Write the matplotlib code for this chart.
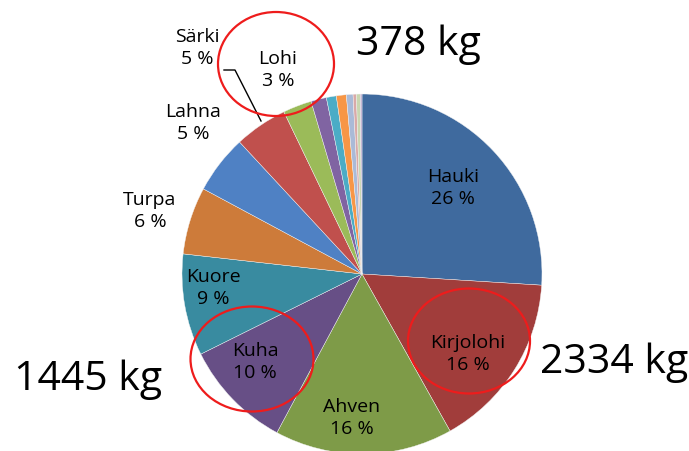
import matplotlib.pyplot as plt
from matplotlib.patches import Ellipse

# catch shares (%), clockwise from 12 o'clock
species = ["Hauki", "Kirjolohi", "Ahven", "Kuha", "Kuore", "Turpa", "Lahna", "Särki", "Lohi",
           "", "", "", "", "", "", ""]
shares = [26.2, 16.0, 16.1, 9.9, 9.2, 6.1, 5.3, 4.8, 2.6, 1.4, 0.9, 0.9, 0.6, 0.3, 0.35, 0.15]
pct_labels = ["26 %", "16 %", "16 %", "10 %", "9 %", "6 %", "5 %", "5 %", "3 %"]
colors = ["#3f6a9e", "#a13d3b", "#7e9b48", "#674f86", "#398ba0", "#cd7b3a",
          "#4f81c4", "#c0504d", "#9bbb59", "#8064a2", "#4bacc6", "#f79646",
          "#aabad7", "#d9a9a8", "#c9d6b0", "#b9a8cc"]

kg_notes = ["378 kg", "2334 kg", "1445 kg"]

W, H = 689, 452
fig = plt.figure(figsize=(W / 100, H / 100), dpi=100)
ax = fig.add_axes([0, 0, 1, 1])

cx, cy, r = 362, H - 275, 180
ax.pie(shares, colors=colors, startangle=90, counterclock=False,
       center=(cx, cy), radius=r, frame=True,
       wedgeprops=dict(linewidth=0.3, edgecolor="#f4f4f4"))
ax.set_xlim(0, W)
ax.set_ylim(0, H)
ax.set_aspect("equal")
ax.axis("off")

font = "Open Sans"
# label positions in pixel coords (x, y from top)
label_pos = [(453, 188), (468, 354), (352, 418), (255, 362), (213, 288),
             (150, 211), (193, 123), (197, 48), (278, 70)]
for name, pct, (x, y) in zip(species, pct_labels, label_pos):
    ax.text(x, H - y, name + "\n" + pct, ha="center", va="center",
            fontsize=14, family=font, linespacing=1.35, color="black")

# leader line for Särki
ax.plot([224, 235, 261], [H - 71, H - 71, H - 122], color="black", lw=1)

# red circles
for (x, y, w, h) in [(276, 65, 116, 104), (469, 342, 122, 105), (252, 360, 123, 105)]:
    ax.add_patch(Ellipse((x, H - y), w, h, fill=False, edgecolor="#ee1c1c", lw=1.6, zorder=5))

for txt, (x, y) in zip(kg_notes, [(418, 45), (614, 363), (88, 380)]):
    ax.text(x, H - y, txt, ha="center", va="center", fontsize=29.5, family=font, color="black")

fig.savefig("out.png", dpi=100)
